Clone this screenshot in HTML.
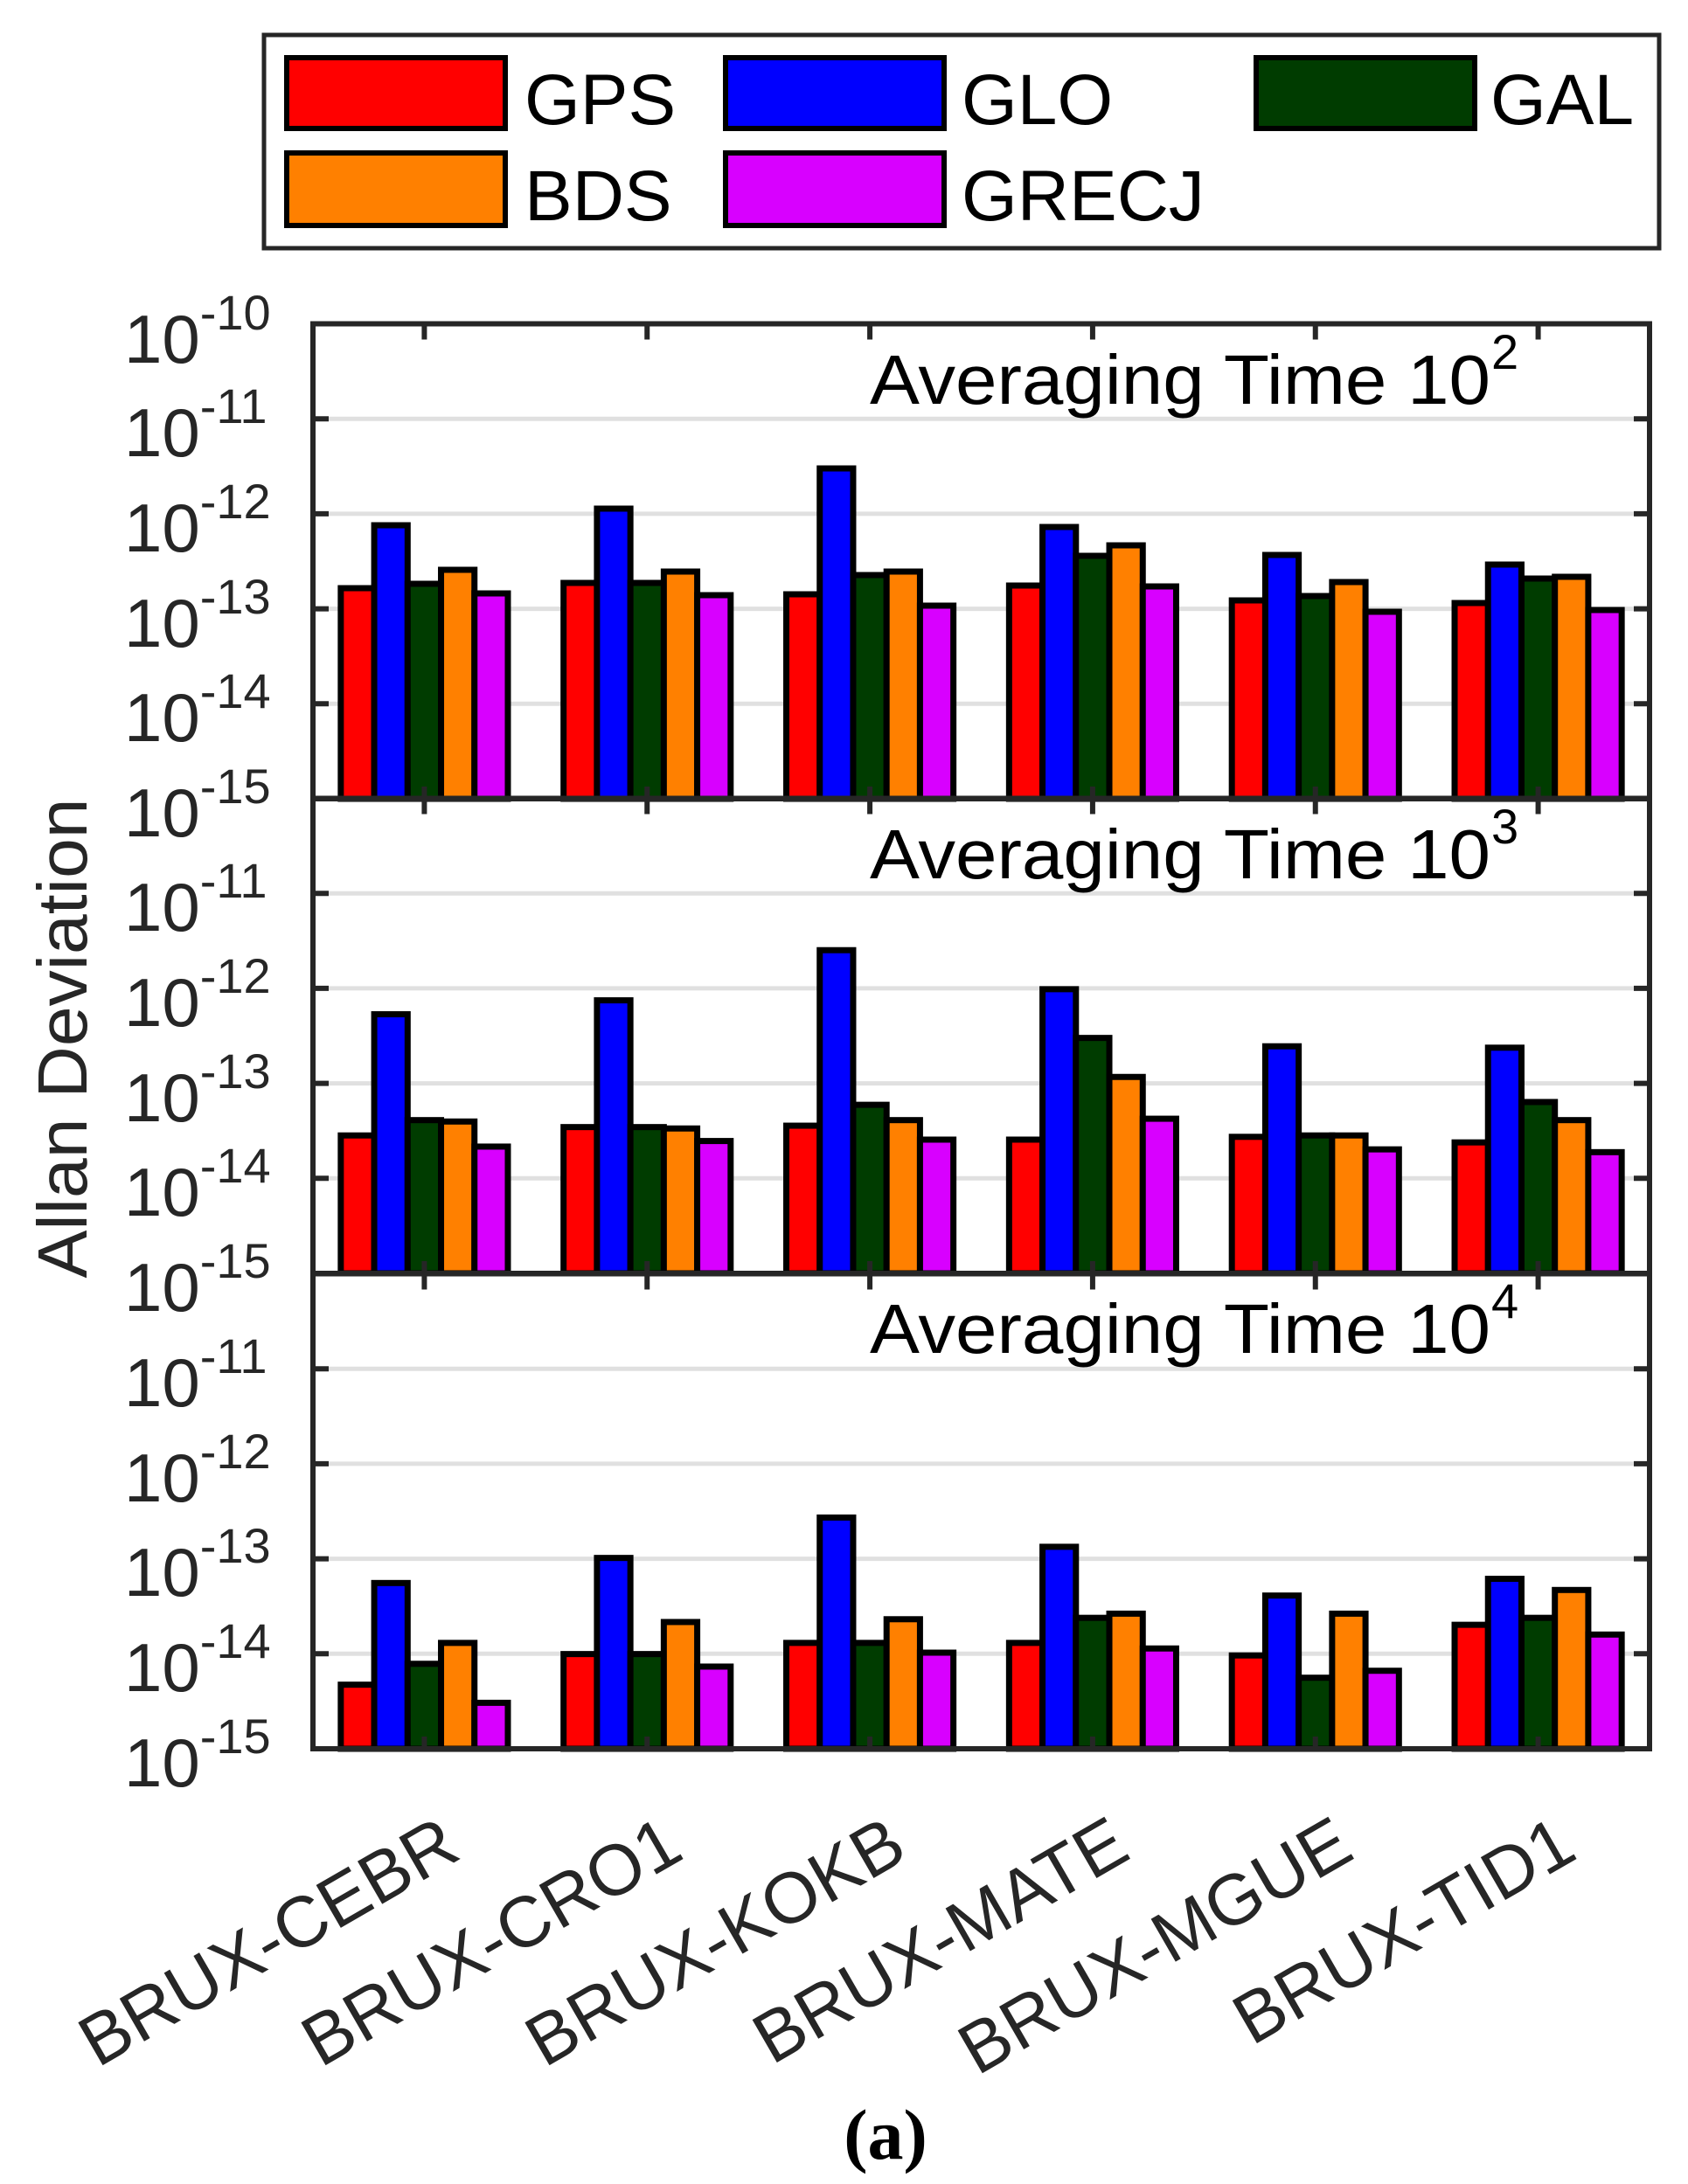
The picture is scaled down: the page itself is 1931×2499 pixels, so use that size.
<!DOCTYPE html>
<html><head><meta charset="utf-8"><style>body{margin:0;background:#fff}svg{display:block}</style></head>
<body>
<svg id="s" width="1931" height="2499" viewBox="0 0 1931 2499" xmlns="http://www.w3.org/2000/svg" font-family="Liberation Sans, sans-serif" fill="#262626">
<rect width="1931" height="2499" fill="#fff"/>
<!-- legend -->
<rect x="302" y="40" width="1596" height="244" fill="#fff" stroke="#262626" stroke-width="5"/>
<rect x="328" y="66" width="250" height="81" fill="#ff0000" stroke="#000" stroke-width="6"/>
<rect x="830" y="66" width="250" height="81" fill="#0000ff" stroke="#000" stroke-width="6"/>
<rect x="1437" y="66" width="250" height="81" fill="#003c00" stroke="#000" stroke-width="6"/>
<rect x="328" y="175" width="250" height="83" fill="#ff8000" stroke="#000" stroke-width="6"/>
<rect x="830" y="175" width="250" height="83" fill="#d800ff" stroke="#000" stroke-width="6"/>
<g font-size="82" fill="#000">
<text x="600" y="142">GPS</text>
<text x="1100" y="142">GLO</text>
<text x="1705" y="142">GAL</text>
<text x="600" y="252">BDS</text>
<text x="1100" y="252">GRECJ</text>
</g>
<g id="plots"></g>
<!-- y labels -->
<g font-size="78">
<text x="142" y="415">10<tspan font-size="56" dy="-38">-10</tspan></text>
<text x="142" y="522">10<tspan font-size="56" dy="-38">-11</tspan></text>
<text x="142" y="631">10<tspan font-size="56" dy="-38">-12</tspan></text>
<text x="142" y="740">10<tspan font-size="56" dy="-38">-13</tspan></text>
<text x="142" y="848">10<tspan font-size="56" dy="-38">-14</tspan></text>
<text x="142" y="957">10<tspan font-size="56" dy="-38">-15</tspan></text>
<text x="142" y="1065">10<tspan font-size="56" dy="-38">-11</tspan></text>
<text x="142" y="1174">10<tspan font-size="56" dy="-38">-12</tspan></text>
<text x="142" y="1283">10<tspan font-size="56" dy="-38">-13</tspan></text>
<text x="142" y="1391">10<tspan font-size="56" dy="-38">-14</tspan></text>
<text x="142" y="1500">10<tspan font-size="56" dy="-38">-15</tspan></text>
<text x="142" y="1609">10<tspan font-size="56" dy="-38">-11</tspan></text>
<text x="142" y="1718">10<tspan font-size="56" dy="-38">-12</tspan></text>
<text x="142" y="1826">10<tspan font-size="56" dy="-38">-13</tspan></text>
<text x="142" y="1935">10<tspan font-size="56" dy="-38">-14</tspan></text>
<text x="142" y="2044">10<tspan font-size="56" dy="-38">-15</tspan></text>
</g>
<g font-size="80" fill="#000">
<text x="995" y="462" textLength="710" lengthAdjust="spacingAndGlyphs">Averaging Time 10</text><text x="1706" y="422" font-size="56">2</text>
<text x="995" y="1005" textLength="710" lengthAdjust="spacingAndGlyphs">Averaging Time 10</text><text x="1706" y="965" font-size="56">3</text>
<text x="995" y="1548" textLength="710" lengthAdjust="spacingAndGlyphs">Averaging Time 10</text><text x="1706" y="1508" font-size="56">4</text>
</g>
<text transform="translate(99,1188) rotate(-90)" text-anchor="middle" font-size="80" textLength="549" lengthAdjust="spacingAndGlyphs">Allan Deviation</text>
<g font-size="82" text-anchor="end">
<text transform="translate(530,2125) rotate(-30)">BRUX-CEBR</text>
<text transform="translate(785,2125) rotate(-30)">BRUX-CRO1</text>
<text transform="translate(1041,2125) rotate(-30)">BRUX-KOKB</text>
<text transform="translate(1296,2125) rotate(-30)">BRUX-MATE</text>
<text transform="translate(1552,2125) rotate(-30)">BRUX-MGUE</text>
<text transform="translate(1807,2125) rotate(-30)">BRUX-TID1</text>
</g>
<text x="1013" y="2470" text-anchor="middle" font-family="Liberation Serif, serif" font-weight="bold" font-size="82" fill="#000">(a)</text>
</svg>
<script>
var NS="http://www.w3.org/2000/svg",g=document.getElementById("plots");
function el(t,a){var e=document.createElementNS(NS,t);for(var k in a)e.setAttribute(k,a[k]);g.appendChild(e);return e;}
var L=358,R=1887,bottoms=[914,1457,2001],dec=108.7,dispB=[573,914,1256],dd=68.2;
var cols=["#ff0000","#0000ff","#003c00","#ff8000","#d800ff"];
var p1=[[673,601,668,652,679],[667,582,667,654,681],[680,536,658,654,693],[670,603,636,624,671],[687,635,682,666,700],[690,646,662,660,698]];
var data=[null,
[[815,728,804,805,823],[809,718,809,810,819],[808,682,793,804,818],[818,710,745,773,803],[816,751,815,815,825],[820,752,791,804,827]],
[[1210,1137,1195,1180,1223],[1188,1119,1188,1165,1197],[1180,1090,1180,1163,1187],[1180,1111,1162,1159,1184],[1189,1146,1205,1159,1200],[1167,1134,1162,1142,1174]]];
var gw=(R-L)/6;
for(var p=0;p<3;p++){
 var B=bottoms[p],T=B-5*dec;
 for(var k=1;k<5;k++){var y=B-k*dec;el("line",{x1:L,x2:R,y1:y,y2:y,stroke:"#e0e0e0","stroke-width":5});}
 for(var i=0;i<6;i++){
  var c=L+gw*(i+0.5),bw=gw*0.75/5,x0=c-gw*0.375;
  for(var j=0;j<5;j++){
   var h = p==0 ? (B-p1[i][j]) : ((dispB[p]-data[p][i][j])/dd*dec);
   el("rect",{x:x0+j*bw,y:B-h,width:bw,height:h,fill:cols[j],stroke:"#000","stroke-width":7});
  }
 }
 for(var k=1;k<5;k++){var y=B-k*dec;el("line",{x1:L,x2:L+18,y1:y,y2:y,stroke:"#262626","stroke-width":6});el("line",{x1:R-18,x2:R,y1:y,y2:y,stroke:"#262626","stroke-width":6});}
 for(var i=0;i<6;i++){var c=L+gw*(i+0.5);el("line",{x1:c,x2:c,y1:T,y2:T+18,stroke:"#262626","stroke-width":6});el("line",{x1:c,x2:c,y1:B,y2:B-14,stroke:"#262626","stroke-width":6});}
 el("rect",{x:L,y:T,width:R-L,height:5*dec,fill:"none",stroke:"#262626","stroke-width":6});
}
</script>
</body></html>
